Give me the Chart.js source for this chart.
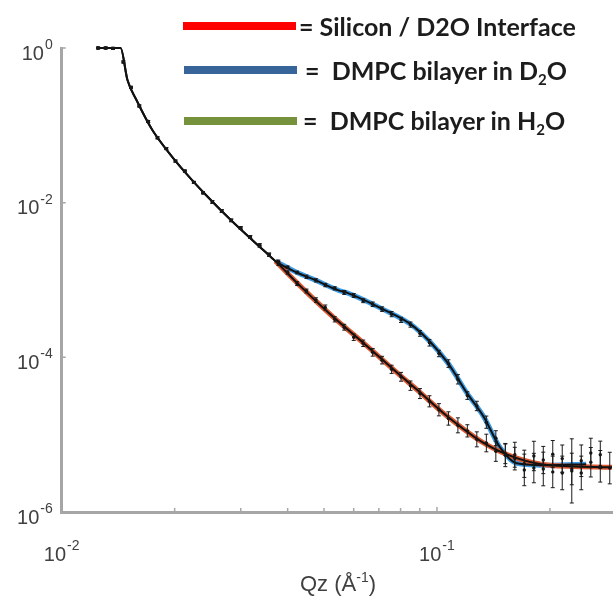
<!DOCTYPE html>
<html>
<head>
<meta charset="utf-8">
<script src="https://cdn.jsdelivr.net/npm/chart.js@4.4.1/dist/chart.umd.min.js"></script>
<style>
  body { margin: 0; background: #fff; }
  #wrap { position: relative; width: 616px; height: 606px; overflow: hidden; }
  #wrap canvas { position: absolute; left: 0; top: 0; }
  .key-bar { position: absolute; height: 8px; }
  .key-text { position: absolute; font-family: Lato, "Open Sans", sans-serif; font-weight: bold; font-size: 25px; color: #1c1c1c; white-space: pre; line-height: 1; }
  .key-text sub { font-size: 15px; vertical-align: -5px; line-height: 0; }
  #xtitle { position: absolute; left: 300px; top: 573px; font-family: "Liberation Sans", Arial, sans-serif; font-size: 22px; color: #404040; white-space: pre; line-height: 1; }
  #xtitle sup { font-size: 14px; vertical-align: 9px; line-height: 0; }
</style>
</head>
<body>
<div id="wrap">
  <canvas id="chart-refl" width="616" height="606"></canvas>
  <div class="key-bar" style="left:183px; top:22px; width:113px; background:#ff0000;"></div>
  <div class="key-text" style="left:299px; top:14px;">= Silicon / D2O Interface</div>
  <div class="key-bar" style="left:184px; top:66px; width:113px; background:#37659a;"></div>
  <div class="key-text" style="left:305px; top:58px;">=  DMPC bilayer in D<sub>2</sub>O</div>
  <div class="key-bar" style="left:184px; top:117px; width:113px; background:#76923c;"></div>
  <div class="key-text" style="left:303px; top:108px;">=  DMPC bilayer in H<sub>2</sub>O</div>
  <div id="xtitle">Qz (Å<sup>-1</sup>)</div>
</div>

<script>
// ============================================
// 반사율 데이터 (Qz, R)
// ============================================

// 저 Q 영역 - 두 측정 공통
const qLow = [0.0125, 0.0131, 0.0137, 0.0146, 0.0153, 0.0161, 0.0170, 0.0180, 0.0190, 0.0201,
              0.0213, 0.0225, 0.0238, 0.0252, 0.0267, 0.0283, 0.0300, 0.0318, 0.0337, 0.0357];
const rLow = [1.0, 1.0, 0.99, 0.66, 0.31, 0.178, 0.112, 0.069, 0.050, 0.0345,
              0.0256, 0.0183, 0.0134, 0.0102, 0.0078, 0.0059, 0.0047, 0.0036, 0.0028, 0.00212];
const errLow = [1.03, 1.03, 1.03, 1.03, 1.03, 1.03, 1.03, 1.03, 1.03, 1.03,
                1.03, 1.03, 1.03, 1.04, 1.04, 1.04, 1.04, 1.04, 1.05, 1.05];

// 중/고 Q 영역 Q 값
const qMid = [0.0378, 0.0400, 0.0424, 0.0449, 0.0476, 0.0504, 0.0534, 0.0566, 0.0600, 0.0636,
              0.0674, 0.0714, 0.0757, 0.0802, 0.0850, 0.0901, 0.0955, 0.1012, 0.1073, 0.1137];
const qHighSi = [0.1205, 0.1277, 0.1354, 0.1435, 0.1521, 0.1612, 0.1709, 0.1812, 0.1920, 0.2035,
                 0.2157, 0.2287, 0.2424, 0.2570, 0.2724, 0.2887];
const qHighBl = [0.1205, 0.1277, 0.1354, 0.1435, 0.1521, 0.1612, 0.1709, 0.1812, 0.1920, 0.2035,
                 0.2157, 0.2287, 0.2424, 0.2570, 0.2724];

// Silicon / D2O (빨강)
const rMidSi = [0.00162, 0.00125, 9.0e-4, 7.2e-4, 5.5e-4, 4.4e-4, 3.1e-4, 2.45e-4, 1.82e-4, 1.52e-4,
                1.16e-4, 9.2e-5, 7.0e-5, 5.6e-5, 4.3e-5, 3.4e-5, 2.7e-5, 2.1e-5, 1.62e-5, 1.32e-5];
const errMidSi = [1.05, 1.05, 1.06, 1.06, 1.07, 1.08, 1.08, 1.09, 1.10, 1.10,
                  1.12, 1.12, 1.13, 1.14, 1.15, 1.16, 1.18, 1.20, 1.22, 1.25];
const rHighSi = [1.12e-5, 8.7e-6, 7.8e-6, 6.1e-6, 5.4e-6, 5.5e-6, 4.2e-6, 3.7e-6, 4.7e-6, 3.3e-6,
                 4.9e-6, 3.6e-6, 3.2e-6, 4.4e-6, 5.5e-6, 3.7e-6];
const errHighSi = [1.2, 1.25, 1.3, 1.35, 1.4, 1.45, 1.5, 1.55, 1.5, 1.6,
                   1.5, 1.6, 1.65, 1.55, 1.5, 1.6];

// DMPC bilayer in D2O (파랑)
const rMidBl = [1.74e-3, 1.46e-3, 1.25e-3, 1.10e-3, 9.9e-4, 8.6e-4, 7.8e-4, 6.9e-4, 6.3e-4, 5.4e-4,
                4.85e-4, 4.2e-4, 3.62e-4, 3.05e-4, 2.65e-4, 2.04e-4, 1.54e-4, 1.12e-4, 8.3e-5, 5.2e-5];
const errMidBl = [1.04, 1.04, 1.04, 1.05, 1.05, 1.05, 1.05, 1.06, 1.06, 1.06,
                  1.07, 1.07, 1.08, 1.08, 1.08, 1.09, 1.10, 1.10, 1.12, 1.15];
const rHighBl = [3.2e-5, 2.35e-5, 1.45e-5, 9.0e-6, 5.7e-6, 4.9e-6, 3.5e-6, 5.3e-6, 3.6e-6, 5.6e-6,
                 3.2e-6, 3.4e-6, 4.6e-6, 5.8e-6, 3.9e-6];
const errHighBl = [1.12, 1.15, 1.2, 1.25, 1.35, 1.4, 1.6, 1.55, 1.65, 1.5,
                   1.65, 2.6, 1.6, 1.55, 1.6];

// 피팅 곡선
const fitSiQ = [0.0124, 0.01435, 0.01497, 0.01582, 0.01744, 0.01934, 0.02145, 0.02423, 0.0284, 0.03492,
                0.03712, 0.0427, 0.05222, 0.06423, 0.07852, 0.08867, 0.10647, 0.1334, 0.16313,
                0.1994, 0.2927];
const fitSiR = [1, 1, 0.3855, 0.2125, 0.0869, 0.0438, 0.0239, 0.01254, 0.00578, 0.002296,
                0.001755, 8.85e-4, 3.52e-4, 1.48e-4, 6.25e-5, 3.77e-5, 1.73e-5, 7.76e-6, 4.97e-6,
                4.03e-6, 3.8e-6];
const fitBlQ = [0.0124, 0.01435, 0.01497, 0.01582, 0.01744, 0.01934, 0.02145, 0.02423, 0.0284, 0.03492,
                0.03712, 0.0427, 0.04736, 0.05448, 0.05789, 0.07079, 0.0871, 0.10647, 0.12025, 0.1334,
                0.1471, 0.16313, 0.1994, 0.2498];
const fitBlR = [1, 1, 0.3855, 0.2125, 0.0869, 0.0438, 0.0239, 0.01254, 0.00578, 0.002296,
                0.001755, 0.001228, 9.97e-4, 7.4e-4, 6.77e-4, 4.33e-4, 2.46e-4, 8.67e-5, 3.44e-5, 1.684e-5,
                6.89e-6, 4.28e-6, 4.03e-6, 4.15e-6];
// 색 띠는 갈라지는 지점부터 보임 (저 Q 구간은 검은 피팅선에 가려짐)
const bandStart = 10;

// 축 눈금
const xMajorTicks = [0.01, 0.1];
const xMajorExp = [-2, -1];
const xMinorTicks = [0.02, 0.03, 0.04, 0.05, 0.06, 0.07, 0.08, 0.09, 0.2];
const yTicks = [1, 1e-2, 1e-4, 1e-6];
const yExp = [0, -2, -4, -6];

// 측정 세트 조립
const siQ = [...qLow, ...qMid, ...qHighSi];
const siR = [...rLow, ...rMidSi, ...rHighSi];
const siErr = [...errLow, ...errMidSi, ...errHighSi];
const blQ = [...qLow, ...qMid, ...qHighBl];
const blR = [...rLow, ...rMidBl, ...rHighBl];
const blErr = [...errLow, ...errMidBl, ...errHighBl];

const toXY = (qs, rs) => qs.map((q, i) => ({ x: q, y: rs[i] }));

const AXIS_COLOR = '#a6a6a6';
const LABEL_COLOR = '#404040';

// 10^n 형식으로 그리기 (위첨자)
function drawPow(ctx, exp, x, y, align) {
  const base = '10';
  const sup = String(exp);
  ctx.font = '20px "Liberation Sans", Arial, sans-serif';
  const wb = ctx.measureText(base).width;
  ctx.font = '14px "Liberation Sans", Arial, sans-serif';
  const ws = ctx.measureText(sup).width;
  const total = wb + ws + 1;
  let left = x;
  if (align === 'center') left = x - total / 2;
  else if (align === 'right') left = x - total;
  ctx.textBaseline = 'middle';
  ctx.textAlign = 'left';
  ctx.font = '20px "Liberation Sans", Arial, sans-serif';
  ctx.fillText(base, left, y);
  ctx.font = '14px "Liberation Sans", Arial, sans-serif';
  ctx.fillText(sup, left + wb + 1, y - 9);
}

// 눈금 + 눈금 라벨
const axisDecor = {
  id: 'axisDecor',
  afterDraw(chart) {
    const { ctx, chartArea, scales: { x, y } } = chart;
    ctx.save();
    ctx.strokeStyle = AXIS_COLOR;
    ctx.lineWidth = 1.5;
    ctx.beginPath();
    xMajorTicks.forEach(v => {
      const px = x.getPixelForValue(v);
      ctx.moveTo(px, chartArea.bottom); ctx.lineTo(px, chartArea.bottom - 5);
    });
    xMinorTicks.forEach(v => {
      const px = x.getPixelForValue(v);
      ctx.moveTo(px, chartArea.bottom); ctx.lineTo(px, chartArea.bottom - 4);
    });
    yTicks.forEach(v => {
      const py = y.getPixelForValue(v);
      ctx.moveTo(chartArea.left, py); ctx.lineTo(chartArea.left + 4, py);
    });
    ctx.stroke();

    ctx.fillStyle = LABEL_COLOR;
    xMajorTicks.forEach((v, i) => drawPow(ctx, xMajorExp[i], x.getPixelForValue(v), chartArea.bottom + 43, 'center'));
    yTicks.forEach((v, i) => drawPow(ctx, yExp[i], chartArea.left - 9, y.getPixelForValue(v) + 6, 'right'));
    ctx.restore();
  }
};

// 에러바
const errorBars = {
  id: 'errorBars',
  afterDatasetsDraw(chart) {
    const { ctx, scales: { x, y } } = chart;
    const sets = [[siQ, siR, siErr], [blQ, blR, blErr]];
    ctx.save();
    ctx.strokeStyle = '#1a1a1a';
    ctx.lineWidth = 1;
    ctx.beginPath();
    sets.forEach(([qs, rs, es]) => {
      qs.forEach((q, i) => {
        const px = x.getPixelForValue(q);
        const top = y.getPixelForValue(rs[i] * es[i]);
        const bot = y.getPixelForValue(rs[i] / es[i]);
        ctx.moveTo(px, top); ctx.lineTo(px, bot);
        ctx.moveTo(px - 2, top); ctx.lineTo(px + 2, top);
        ctx.moveTo(px - 2, bot); ctx.lineTo(px + 2, bot);
      });
    });
    ctx.stroke();
    ctx.restore();
  }
};

function renderChart() {
  const ctx = document.getElementById('chart-refl');
  new Chart(ctx, {
    type: 'line',
    data: {
      datasets: [
        { label: 'fit Si', data: toXY(fitSiQ, fitSiR), borderColor: '#111', borderWidth: 2, pointRadius: 0,
          cubicInterpolationMode: 'monotone', order: 0, clip: false },
        { label: 'fit DMPC', data: toXY(fitBlQ, fitBlR), borderColor: '#111', borderWidth: 2, pointRadius: 0,
          cubicInterpolationMode: 'monotone', order: 0, clip: false },
        { label: 'Si data', data: toXY(siQ, siR), showLine: false, pointRadius: 1.7, pointBackgroundColor: '#111',
          pointBorderWidth: 0, order: 1, clip: false },
        { label: 'DMPC data', data: toXY(blQ, blR), showLine: false, pointRadius: 1.7, pointBackgroundColor: '#111',
          pointBorderWidth: 0, order: 1, clip: false },
        { label: 'Silicon / D2O Interface',
          data: toXY(fitSiQ.slice(bandStart), fitSiR.slice(bandStart)), borderColor: '#dc5a33', borderWidth: 5,
          pointRadius: 0, cubicInterpolationMode: 'monotone', order: 2, clip: false },
        { label: 'DMPC bilayer in D2O',
          data: toXY(fitBlQ.slice(bandStart), fitBlR.slice(bandStart)), borderColor: '#3d9be3', borderWidth: 5,
          pointRadius: 0, cubicInterpolationMode: 'monotone', order: 3, clip: false }
      ]
    },
    options: {
      responsive: false,
      animation: false,
      layout: { padding: { top: 48, right: 0, left: 0, bottom: 0 } },
      plugins: { legend: { display: false }, tooltip: { enabled: false } },
      scales: {
        x: {
          type: 'logarithmic', min: 0.01, max: 0.2927,
          grid: { display: false },
          border: { display: true, color: AXIS_COLOR, width: 3 },
          ticks: { display: false },
          afterFit: s => { s.height = 94; }
        },
        y: {
          type: 'logarithmic', min: 1e-6, max: 1,
          grid: { display: false },
          border: { display: true, color: AXIS_COLOR, width: 3 },
          ticks: { display: false },
          afterFit: s => { s.width = 61.7; }
        }
      }
    },
    plugins: [errorBars, axisDecor]
  });
}

renderChart();
</script>
</body>
</html>
